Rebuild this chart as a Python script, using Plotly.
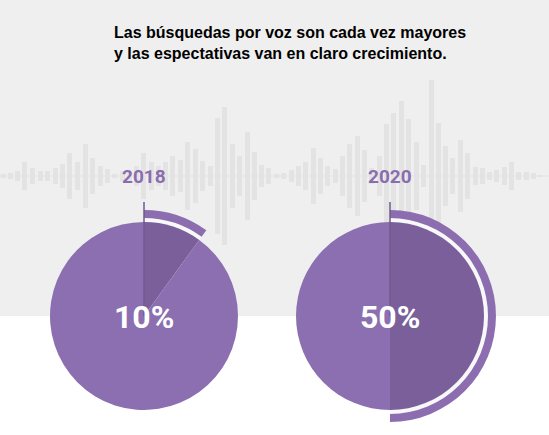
import plotly.graph_objects as go

# data
years = ["2018", "2020"]
shares = [10, 50]          # % of voice searches
share_labels = ["10%", "50%"]

# background "sound wave" bars: x position (px) and half height (px)
wave_x = [3, 10, 17, 24, 32, 40, 47, 55, 62, 69,
          77, 85, 92, 100, 107, 114, 122, 129, 136, 143,
          151, 158, 165, 172, 180, 187, 195, 202, 210, 217,
          224, 232, 239, 247, 254, 261, 268, 276, 283, 291,
          298, 305, 313, 320, 327, 335, 342, 349, 357, 364,
          371, 379, 386, 393, 401, 408, 416, 423, 431, 438,
          445, 452, 460, 467, 475, 482, 489, 496, 504, 511,
          518, 526, 533, 540]
wave_h = [2, 3, 5, 14, 8, 5, 5, 8, 12, 23,
          14, 32, 18, 10, 7, 2, 5, 6, 10, 23,
          14, 10, 14, 20, 16, 34, 27, 15, 10, 58,
          69, 32, 20, 44, 24, 11, 8, 2, 3, 6,
          10, 14, 28, 18, 10, 7, 20, 32, 40, 26,
          8, 20, 52, 63, 75, 57, 34, 11, 96, 53,
          30, 18, 36, 23, 9, 8, 4, 6, 9, 14,
          4, 4, 3, 1]

title = "Las búsquedas por voz son cada vez mayores<br>y las espectativas van en claro crecimiento."

# layout / style
W, H = 549, 435
wave_mid = 176
pie_cx = [144, 390]
pie_cy = 316
r_pie, r_gap, r_ring = 94, 98, 106
light = "#8c6fb0"
dark = "#7a5f9b"
ring_col = "#8b6db0"


def dom(cx, cy, r):
    return dict(x=[(cx - r) / W, (cx + r) / W],
                y=[(H - cy - r) / H, (H - cy + r) / H])


fig = go.Figure()

# wave bars
fig.add_trace(go.Bar(x=wave_x, y=[2 * h for h in wave_h],
                     base=[wave_mid - h for h in wave_h],
                     width=5, marker=dict(color="#e3e3e3", line=dict(width=0)),
                     hoverinfo="skip", showlegend=False))

for i in range(len(years)):
    s = shares[i]
    # white gap + outer ring showing the share
    fig.add_trace(go.Pie(values=[s, 100 - s], sort=False, direction="clockwise",
                         hole=r_pie / r_gap, domain=dom(pie_cx[i], pie_cy, r_gap),
                         marker=dict(colors=["#f8f8f8", "rgba(0,0,0,0)"], line=dict(width=0)),
                         textinfo="none", hoverinfo="skip", showlegend=False))
    fig.add_trace(go.Pie(values=[s, 100 - s], sort=False, direction="clockwise",
                         hole=r_gap / r_ring, domain=dom(pie_cx[i], pie_cy, r_ring),
                         marker=dict(colors=[ring_col, "rgba(0,0,0,0)"], line=dict(width=0)),
                         textinfo="none", hoverinfo="skip", showlegend=False))
    # main pie
    fig.add_trace(go.Pie(values=[s, 100 - s], sort=False, direction="clockwise",
                         domain=dom(pie_cx[i], pie_cy, r_pie),
                         marker=dict(colors=[dark, light], line=dict(width=0)),
                         textinfo="none", hoverinfo="skip", showlegend=False))

    fig.add_annotation(x=pie_cx[i], y=wave_mid, text="<b>" + years[i] + "</b>",
                       showarrow=False, font=dict(family="Roboto", size=19, color="#8a6dae"),
                       xanchor="center", yanchor="middle")
    fig.add_annotation(x=pie_cx[i], y=pie_cy + 1, text="<b>" + share_labels[i] + "</b>",
                       showarrow=False, font=dict(family="Roboto", size=32, color="white"),
                       xanchor="center", yanchor="middle")
    fig.add_shape(type="line", x0=pie_cx[i], x1=pie_cx[i], y0=202, y1=pie_cy,
                  line=dict(color="#6f5a8c", width=1.5), layer="above")

# grey top band and wave midline
fig.add_shape(type="rect", xref="paper", yref="paper", x0=0, x1=1,
              y0=(H - pie_cy) / H, y1=1, fillcolor="#efefef", line=dict(width=0), layer="below")
fig.add_shape(type="line", x0=0, x1=W, y0=wave_mid, y1=wave_mid,
              line=dict(color="#e3e3e3", width=1), layer="below")

fig.add_annotation(x=112, y=43, text="<b>" + title + "</b>", showarrow=False,
                   align="left", xanchor="left", yanchor="middle",
                   font=dict(family="Liberation Sans, Arial", size=16, color="black"))

fig.update_layout(
    width=W, height=H,
    margin=dict(l=0, r=0, t=0, b=0),
    paper_bgcolor="white", plot_bgcolor="rgba(0,0,0,0)",
    xaxis=dict(range=[0, W], visible=False, fixedrange=True),
    yaxis=dict(range=[H, 0], visible=False, fixedrange=True),
    showlegend=False, bargap=0,
)

fig.write_html("out.html", config={"displayModeBar": False},
               post_script="document.body.style.margin='0';")
